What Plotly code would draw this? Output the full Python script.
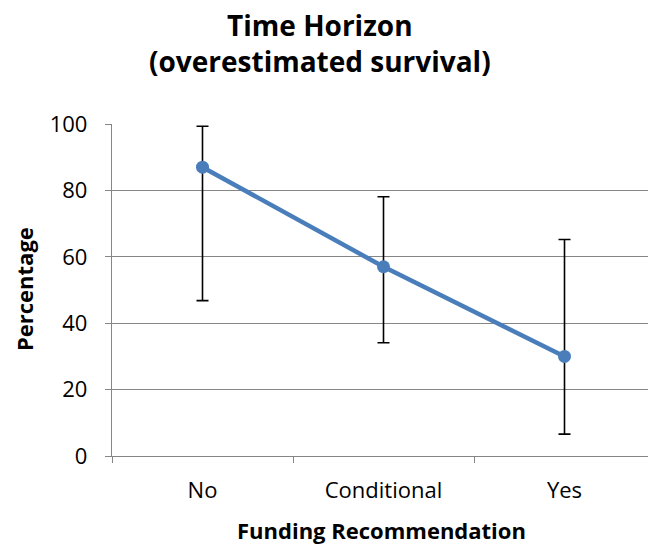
import plotly.graph_objects as go

categories = ["No", "Conditional", "Yes"]
percent = [87, 57, 30]
upper = [99.3, 78.1, 65.2]
lower = [46.8, 34.1, 6.6]

err_plus = [u - p for u, p in zip(upper, percent)]
err_minus = [p - l for p, l in zip(percent, lower)]

FONT = "Open Sans"
L, R, T, B = 112, 648, 124, 456
W, H = 648, 544
PW, PH = R - L, B - T

def px(x):
    return (x - L) / PW

def py(y):
    return (B - y) / PH

fig = go.Figure()
fig.add_trace(go.Scatter(
    x=categories, y=percent, mode="lines+markers",
    line=dict(color="#4A7EBB", width=4.5),
    marker=dict(color="#4A7EBB", size=13),
    error_y=dict(type="data", symmetric=False, array=err_plus, arrayminus=err_minus,
                 color="black", thickness=1.6, width=6),
    showlegend=False,
))

fig.add_annotation(text="<b>Time Horizon</b><br><b>(overestimated survival)</b>",
                   x=px(320), y=py(43), xref="paper", yref="paper",
                   xanchor="center", yanchor="middle", showarrow=False,
                   font=dict(family=FONT, size=28, color="black"))
fig.add_annotation(text="<b>Funding Recommendation</b>", x=px(381), y=py(530),
                   xref="paper", yref="paper", xanchor="center", yanchor="middle",
                   showarrow=False, font=dict(family=FONT, size=22, color="black"))
fig.add_annotation(text="<b>Percentage</b>", x=px(24), y=py(289), xref="paper", yref="paper",
                   xanchor="center", yanchor="middle", showarrow=False, textangle=-90,
                   font=dict(family=FONT, size=22, color="black"))

fig.update_layout(
    width=W, height=H,
    margin=dict(l=L, r=W - R, t=T, b=H - B),
    paper_bgcolor="white", plot_bgcolor="white",
    font=dict(family=FONT, color="black"),
    xaxis=dict(type="category", range=[-0.5, -0.5 + PW / 181],
               tickson="boundaries", ticks="outside", ticklen=6, tickcolor="#868686",
               showline=True, linecolor="#868686", linewidth=1.3,
               showgrid=False, tickfont=dict(size=22, family=FONT),
               ticklabelstandoff=14),
    yaxis=dict(range=[0, 100], tickvals=[0, 20, 40, 60, 80, 100],
               ticks="outside", ticklen=6, tickcolor="#868686",
               showline=True, linecolor="#868686", linewidth=1.3,
               showgrid=True, gridcolor="#868686", gridwidth=1.3,
               zeroline=False, tickfont=dict(size=22, family=FONT),
               ticklabelstandoff=13),
)

fig.write_html("out.html", config={"displayModeBar": False},
               post_script="document.body.style.margin='0';")
